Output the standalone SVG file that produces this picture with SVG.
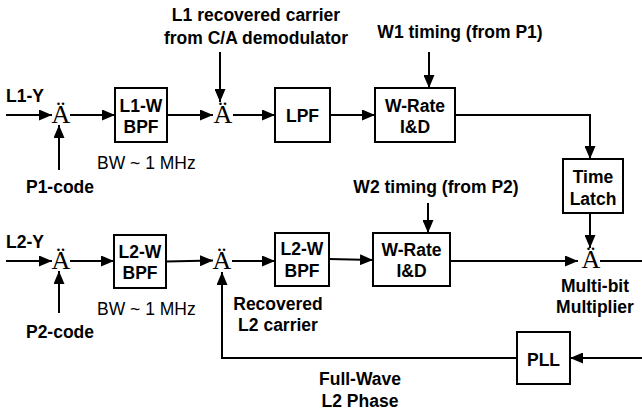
<svg xmlns="http://www.w3.org/2000/svg" width="642" height="413" viewBox="0 0 642 413">
<defs>
<marker id="ah" markerWidth="13" markerHeight="11" refX="13" refY="5.5" orient="auto" markerUnits="userSpaceOnUse"><path d="M0,0 L13,5.5 L0,11 z" fill="#000"/></marker>
<style>
.b{fill:#fff;stroke:#000;stroke-width:2}
.t{font-family:"Liberation Sans",Arial,sans-serif;font-weight:bold;font-size:17.5px;fill:#000;text-anchor:middle}
.n{font-family:"Liberation Sans",Arial,sans-serif;font-size:17.5px;fill:#000}
.x{font-family:"Liberation Serif","Times New Roman",serif;font-size:26px;fill:#000;text-anchor:middle}
.c{fill:none;stroke:#000;stroke-width:2}
.a{marker-end:url(#ah)}
</style>
</defs>
<rect width="642" height="413" fill="#fff"/>

<g id="mix1"><text class="x" x="61" y="123">Ä</text></g>
<g id="mix2"><text class="x" x="223" y="123">Ä</text></g>
<g id="mix3"><text class="x" x="61" y="269">Ä</text></g>
<g id="mix4"><text class="x" x="222" y="269">Ä</text></g>
<g id="mix5"><text class="x" x="591" y="268">Ä</text></g>

<g id="connectors">
<line class="c a" x1="6" y1="115" x2="52" y2="115"/>
<line class="c a" x1="59" y1="170" x2="59" y2="125"/>
<line class="c a" x1="70" y1="115" x2="115" y2="115"/>
<line class="c a" x1="167" y1="115" x2="213" y2="115"/>
<line class="c a" x1="220" y1="52" x2="220" y2="102"/>
<line class="c a" x1="233" y1="115" x2="275" y2="115"/>
<line class="c a" x1="330" y1="115" x2="375" y2="115"/>
<line class="c a" x1="429" y1="52" x2="429" y2="88"/>
<polyline class="c a" points="455,115 590,115 590,159"/>
<line class="c a" x1="590" y1="213" x2="590" y2="248"/>

<line class="c a" x1="6" y1="261" x2="52" y2="261"/>
<line class="c a" x1="59" y1="313" x2="59" y2="271"/>
<line class="c a" x1="70" y1="261" x2="114" y2="261"/>
<line class="c a" x1="166" y1="261.5" x2="213" y2="260.5"/>
<line class="c a" x1="232" y1="261" x2="275" y2="261"/>
<line class="c a" x1="329" y1="259" x2="373" y2="260"/>
<line class="c a" x1="428" y1="203" x2="428" y2="233"/>
<line class="c a" x1="450" y1="261" x2="578" y2="261"/>
<line class="c" x1="600" y1="261" x2="642" y2="261"/>
<line class="c a" x1="642" y1="358" x2="570" y2="358"/>
<polyline class="c a" points="517,358 222,358 222,272"/>
</g>

<g id="l1wbpf"><rect class="b" x="115" y="88" width="52" height="54"/><text class="t" x="141" y="112">L1-W</text><text class="t" x="141" y="133">BPF</text></g>
<g id="lpf"><rect class="b" x="275" y="88" width="55" height="54"/><text class="t" x="302.5" y="122">LPF</text></g>
<g id="wrate1"><rect class="b" x="375" y="88" width="80" height="54"/><text class="t" x="415" y="112">W-Rate</text><text class="t" x="415" y="133">I&amp;D</text></g>
<g id="timelatch"><rect class="b" x="563" y="159" width="60" height="54"/><text class="t" x="593" y="183">Time</text><text class="t" x="593" y="205">Latch</text></g>

<g id="l2wbpf1"><rect class="b" x="114" y="235" width="52" height="53"/><text class="t" x="140" y="258">L2-W</text><text class="t" x="140" y="279">BPF</text></g>
<g id="l2wbpf2"><rect class="b" x="275" y="233" width="54" height="53"/><text class="t" x="302" y="255">L2-W</text><text class="t" x="302" y="277">BPF</text></g>
<g id="wrate2"><rect class="b" x="373" y="233" width="77" height="53"/><text class="t" x="411.5" y="256">W-Rate</text><text class="t" x="411.5" y="277">I&amp;D</text></g>
<g id="pll"><rect class="b" x="517" y="332" width="53" height="52"/><text class="t" x="543.5" y="366">PLL</text></g>

<g id="labels">
<text class="t" x="25" y="102">L1-Y</text>
<text class="t" x="60" y="193">P1-code</text>
<text class="n" x="97" y="169">BW ~ 1 MHz</text>
<text class="t" x="256" y="21">L1 recovered carrier</text>
<text class="t" x="256" y="44">from C/A demodulator</text>
<text class="t" x="460" y="38">W1 timing (from P1)</text>
<text class="t" x="25" y="248">L2-Y</text>
<text class="t" x="60" y="338">P2-code</text>
<text class="n" x="97" y="315">BW ~ 1 MHz</text>
<text class="t" x="278" y="310">Recovered</text>
<text class="t" x="278" y="331">L2 carrier</text>
<text class="t" x="436" y="193">W2 timing (from P2)</text>
<text class="t" x="595" y="292">Multi-bit</text>
<text class="t" x="595" y="313">Multiplier</text>
<text class="t" x="360" y="385">Full-Wave</text>
<text class="t" x="360" y="407">L2 Phase</text>
</g>
</svg>
